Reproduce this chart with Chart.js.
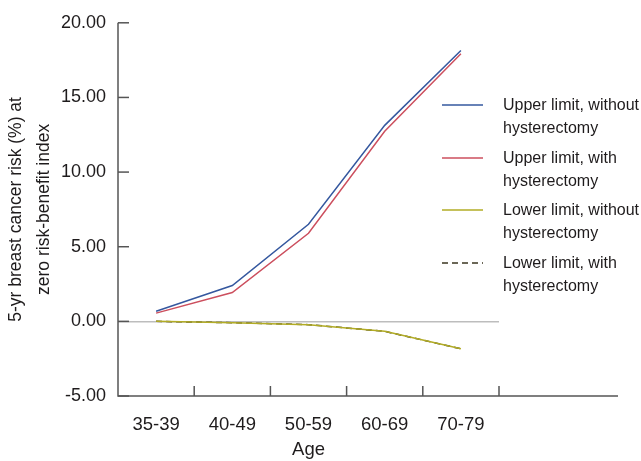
<!DOCTYPE html>
<html>
<head>
<meta charset="utf-8">
<script src="https://cdn.jsdelivr.net/npm/chart.js@4/dist/chart.umd.min.js"></script>
<style>
  html, body { margin: 0; padding: 0; background: #fff; }
  #wrap { width: 641px; height: 461px; position: relative; }
</style>
</head>
<body>
<div id="wrap"><canvas id="riskChart" width="641" height="461"></canvas></div>
<script>
// age groups and values
const ageLabels = ["35-39", "40-49", "50-59", "60-69", "70-79"];
const upperWithout = [0.68, 2.4, 6.5, 13.13, 18.15];
const upperWith = [0.55, 1.93, 5.9, 12.73, 17.93];
const lowerWithout = [0.0, -0.09, -0.22, -0.67, -1.84];
const lowerWith = [0.0, -0.09, -0.22, -0.67, -1.84];
const yTicks = [-5, 0, 5, 10, 15, 20];

const FONT = "'Liberation Sans', Arial, sans-serif";
const TEXT = "#1e1b1c";
const AXIS = "#555555";

// axis lines + inward tick marks, x axis runs past the last category
const axesPlugin = {
  id: "axesPlugin",
  beforeDatasetsDraw(chart) {
    const ctx = chart.ctx;
    const x = chart.scales.x;
    const y = chart.scales.y;
    const area = chart.chartArea;
    ctx.save();
    ctx.strokeStyle = AXIS;
    ctx.lineWidth = 1.5;
    ctx.beginPath();
    ctx.moveTo(area.left, y.getPixelForValue(20));
    ctx.lineTo(area.left, area.bottom);
    ctx.lineTo(618, area.bottom);
    ctx.stroke();
    yTicks.forEach((v) => {
      const py = y.getPixelForValue(v);
      ctx.beginPath();
      ctx.moveTo(area.left, py);
      ctx.lineTo(area.left + 11, py);
      ctx.stroke();
    });
    const half = (x.getPixelForValue(1) - x.getPixelForValue(0)) / 2;
    ageLabels.forEach((lab, i) => {
      const px = x.getPixelForValue(i) + half;
      ctx.beginPath();
      ctx.moveTo(px, area.bottom);
      ctx.lineTo(px, area.bottom - 10);
      ctx.stroke();
    });
    ctx.restore();
  },
};

// legend drawn inside the plot with two-line labels
const legendPlugin = {
  id: "legendPlugin",
  afterDraw(chart) {
    const ctx = chart.ctx;
    const rows = [105, 158, 210, 263];
    ctx.save();
    ctx.font = "16px " + FONT;
    ctx.textBaseline = "middle";
    ctx.fillStyle = TEXT;
    chart.data.datasets.forEach((ds, i) => {
      const ry = rows[i];
      ctx.strokeStyle = ds.borderColor;
      ctx.lineWidth = 1.5;
      ctx.setLineDash(ds.borderDash || []);
      ctx.beginPath();
      ctx.moveTo(442, ry);
      ctx.lineTo(483, ry);
      ctx.stroke();
      ctx.setLineDash([]);
      ds.legendText.forEach((t, k) => {
        ctx.fillText(t, 503, ry + 1 + k * 23);
      });
    });
    ctx.restore();
  },
};

document.addEventListener("DOMContentLoaded", function () {
  function makeLine(label, legendText, data, color, dash) {
    return {
      label: label,
      legendText: legendText,
      data: data,
      borderColor: color,
      backgroundColor: color,
      borderWidth: 1.5,
      borderDash: dash,
      pointRadius: 0,
      tension: 0,
      fill: false,
    };
  }

  new Chart(document.getElementById("riskChart"), {
    type: "line",
    data: {
      labels: ageLabels,
      datasets: [
        makeLine("Upper limit, without hysterectomy", ["Upper limit, without", "hysterectomy"], upperWithout, "#35589f", []),
        makeLine("Upper limit, with hysterectomy", ["Upper limit, with", "hysterectomy"], upperWith, "#cc4f5e", []),
        makeLine("Lower limit, without hysterectomy", ["Lower limit, without", "hysterectomy"], lowerWithout, "#b2ac25", []),
        makeLine("Lower limit, with hysterectomy", ["Lower limit, with", "hysterectomy"], lowerWith, "#3b3620", [6, 4]),
      ],
    },
    options: {
      responsive: false,
      animation: false,
      devicePixelRatio: 1,
      layout: { padding: { left: 0, right: 142, top: 21, bottom: 0 } },
      plugins: { legend: { display: false }, tooltip: { enabled: false } },
      scales: {
        x: {
          type: "category",
          offset: true,
          grid: { display: false, drawTicks: false },
          border: { display: false },
          ticks: { color: TEXT, font: { family: FONT, size: 18.5 }, padding: 18, maxRotation: 0 },
          title: { display: true, text: "Age", color: TEXT, font: { family: FONT, size: 18.5 }, padding: { top: 0, bottom: 0 } },
          afterFit(scale) { scale.height = 65; },
        },
        y: {
          min: -5,
          max: 20,
          afterBuildTicks(scale) { scale.ticks = yTicks.map((v) => ({ value: v })); },
          grid: {
            drawTicks: false,
            lineWidth: 1.5,
            color: (c) => (c.tick && c.tick.value === 0 ? "#bdbdbd" : "rgba(0,0,0,0)"),
          },
          border: { display: false },
          ticks: {
            color: TEXT,
            font: { family: FONT, size: 18 },
            padding: 12,
            callback: (v) => Number(v).toFixed(2),
          },
          title: {
            display: true,
            text: ["5-yr breast cancer risk (%) at", "zero risk-benefit index"],
            color: TEXT,
            font: { family: FONT, size: 17.5, lineHeight: 1.55 },
            padding: { top: 3, bottom: 0 },
          },
          afterFit(scale) { scale.width = 118; },
        },
      },
    },
    plugins: [axesPlugin, legendPlugin],
  });
});
</script>
</body>
</html>
